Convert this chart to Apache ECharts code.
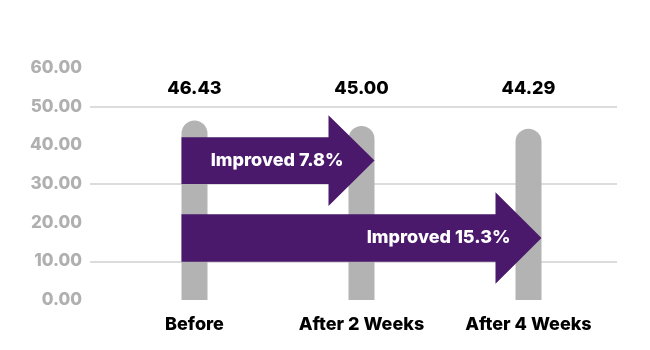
<!DOCTYPE html>
<html>
<head>
<meta charset="utf-8">
<script src="https://cdn.jsdelivr.net/npm/echarts@6/dist/echarts.min.js"></script>
<style>html,body{margin:0;padding:0;background:#fff}#c{width:650px;height:350px}</style>
</head>
<body>
<div id="c"></div>
<script>
// ---- data ----
var categories = ['Before', 'After 2 Weeks', 'After 4 Weeks'];
var values = [46.43, 45.00, 44.29];
var yTicks = [0, 10, 20, 30, 40, 50, 60];
// arrows: from category index, to category index, body low / high values, label
var arrowFrom = [0, 0];
var arrowTo = [1, 2];
var arrowLow = [30.0, 9.9];
var arrowHigh = [42.1, 22.2];
var arrowLabels = ['Improved 7.8%', 'Improved 15.3%'];

// ---- style ----
var FONT = 'Inter, "DejaVu Sans", sans-serif';
var PURPLE = '#4a196c';
var BAR = '#b3b3b3';
var BAR_W = 26;
var HEAD_EXTRA = 22, HEAD_LEN = 46, TEXT_GAP = 31;
var LABEL_Y = 54.8;

var chart = echarts.init(document.getElementById('c'));
var arrowData = arrowFrom.map(function (f, i) { return [f, arrowTo[i], arrowLow[i], arrowHigh[i], i]; });
var labelData = values.map(function (v, i) { return [i, LABEL_Y, v]; });

chart.setOption({
  animation: false,
  grid: [
    { left: 90, right: 33, top: 68, bottom: 50 },
    { left: 111, right: 38, top: 68, bottom: 50 }
  ],
  xAxis: [
    { type: 'category', gridIndex: 0, data: categories, show: false },
    { type: 'category', gridIndex: 1, data: categories,
      axisLine: { show: false }, axisTick: { show: false },
      axisLabel: { margin: 16, color: '#000', fontFamily: FONT, fontWeight: 800, fontSize: 18 } }
  ],
  yAxis: [
    { type: 'value', gridIndex: 0, min: yTicks[0], max: yTicks[yTicks.length - 1], interval: 10,
      axisLine: { show: false }, axisTick: { show: false },
      axisLabel: { margin: 8, color: '#b0b0b0', fontFamily: FONT, fontWeight: 800, fontSize: 17,
        formatter: function (v) { return v.toFixed(2); } },
      splitLine: { lineStyle: { width: 2, color: ['rgba(0,0,0,0)', '#dcdcdc'] } } },
    { type: 'value', gridIndex: 1, min: yTicks[0], max: yTicks[yTicks.length - 1], interval: 10, show: false,
      splitLine: { show: false } }
  ],
  series: [
    { type: 'bar', xAxisIndex: 1, yAxisIndex: 1, data: values, barWidth: BAR_W,
      itemStyle: { color: BAR, borderRadius: [13, 13, 0, 0] }, z: 2 },
    { type: 'custom', xAxisIndex: 1, yAxisIndex: 1, data: labelData, z: 3,
      encode: { x: 0, y: 1 },
      renderItem: function (params, api) {
        var p = api.coord([api.value(0), api.value(1)]);
        return { type: 'text', style: { text: api.value(2).toFixed(2), x: p[0], y: p[1],
          align: 'center', verticalAlign: 'middle', fill: '#000', font: '800 18px ' + FONT } };
      } },
    { type: 'custom', xAxisIndex: 1, yAxisIndex: 1, data: arrowData, z: 5,
      encode: { x: [0, 1], y: [2, 3] },
      renderItem: function (params, api) {
        var a = api.coord([api.value(0), api.value(2)]);
        var b = api.coord([api.value(1), api.value(3)]);
        var x0 = a[0] - BAR_W / 2, xTip = b[0] + BAR_W / 2;
        var yLow = a[1], yHigh = b[1];
        var yMid = (yLow + yHigh) / 2;
        var xBase = xTip - HEAD_LEN;
        var pts = [[x0, yHigh], [xBase, yHigh], [xBase, yHigh - HEAD_EXTRA], [xTip, yMid],
                   [xBase, yLow + HEAD_EXTRA], [xBase, yLow], [x0, yLow]];
        return { type: 'group', children: [
          { type: 'polygon', shape: { points: pts }, style: { fill: PURPLE } },
          { type: 'text', style: { text: arrowLabels[api.value(4)], x: xTip - TEXT_GAP, y: yMid,
              align: 'right', verticalAlign: 'middle', fill: '#fff',
              font: '800 18px ' + FONT } }
        ] };
      } }
  ]
});
</script>
</body>
</html>
